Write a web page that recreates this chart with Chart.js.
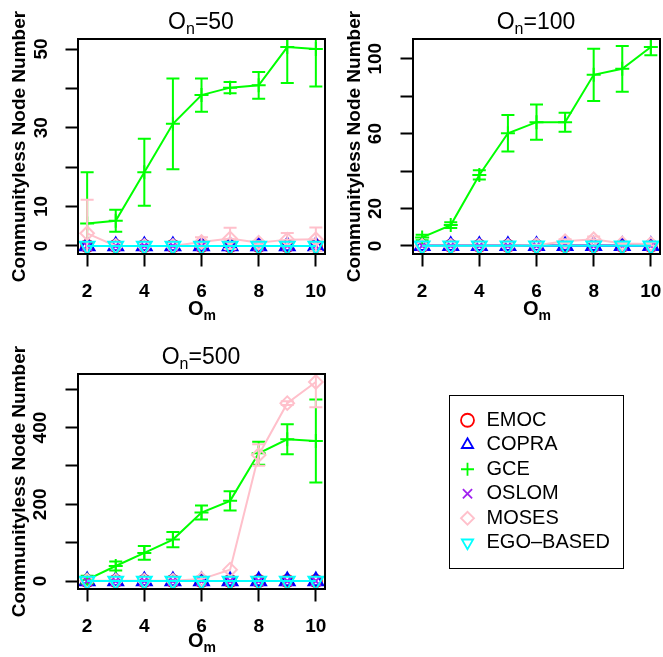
<!DOCTYPE html>
<html>
<head>
<meta charset="utf-8">
<script src="https://cdn.jsdelivr.net/npm/chart.js@4.4.0/dist/chart.umd.min.js"></script>
<style>
  body { margin: 0; background: #fff; width: 663px; height: 657px; position: relative; overflow: hidden;
         font-family: "Liberation Sans", Arial, Helvetica, sans-serif; color: #000; }
  .panel { position: absolute; width: 328px; height: 322px; }
  canvas { display: block; }
  .ttl { position: absolute; font-size: 23px; white-space: nowrap; transform: translate(-50%, -50%); line-height: 1; }
  .ttl sub { font-size: 16px; vertical-align: -5px; }
  .xt { position: absolute; font-size: 20px; font-weight: bold; white-space: nowrap; transform: translate(-50%, -50%); line-height: 1; }
  .xt sub { font-size: 14px; vertical-align: -5px; }
  #legendBox { position: absolute; left: 449px; top: 395px; width: 175px; height: 174px;
               box-sizing: border-box; border: 1.5px solid #000; }
</style>
</head>
<body>

<div class="panel" style="left:0;top:0"><canvas id="p50" width="328" height="322"></canvas></div>
<div class="panel" style="left:335px;top:0"><canvas id="p100" width="328" height="322"></canvas></div>
<div class="panel" style="left:0;top:335px"><canvas id="p500" width="328" height="322"></canvas></div>

<div class="ttl" style="left:201px;top:23px">O<sub>n</sub>=50</div>
<div class="ttl" style="left:536px;top:23px">O<sub>n</sub>=100</div>
<div class="ttl" style="left:201px;top:358px">O<sub>n</sub>=500</div>

<div class="xt" style="left:202px;top:310px">O<sub>m</sub></div>
<div class="xt" style="left:537px;top:310px">O<sub>m</sub></div>
<div class="xt" style="left:202px;top:642px">O<sub>m</sub></div>

<div id="legendBox"><canvas id="leg" width="172" height="171"></canvas></div>

<script>
const omValues = [2, 3, 4, 5, 6, 7, 8, 9, 10];
const xTicks = [2, 4, 6, 8, 10];
const methods = ["EMOC", "COPRA", "GCE", "OSLOM", "MOSES", "EGO\u2013BASED"];
const zeros = [0, 0, 0, 0, 0, 0, 0, 0, 0];

// On = 50
const gce50 = [5.7, 6.4, 18.7, 31.0, 38.3, 40.2, 40.8, 50.5, 50.0];
const gce50Err = [13.0, 2.8, 8.5, 11.5, 4.2, 1.4, 3.4, 9.1, 9.5];
const moses50 = [3.2, 0, 0, 0, 1.0, 1.9, 0.8, 1.6, 1.7];
const moses50Err = [8.5, 0, 0, 0, 1.2, 2.7, 0.4, 1.7, 3.0];
const yTicks50 = [0, 10, 20, 30, 40, 50];
const yLabels50 = [0, 10, 30, 50];

// On = 100
const gce100 = [4.5, 11.1, 37.9, 60.2, 66.1, 66.1, 91.4, 94.6, 106.3];
const gce100Err = [1.5, 1.5, 2.5, 9.8, 9.4, 5.1, 14.0, 12.2, 4.5];
const moses100 = [0, 0, 0, 0, 0.3, 2.5, 3.5, 1.3, 1.0];
const moses100Err = [0, 0, 0, 0, 0.3, 1.0, 1.5, 0.8, 0.8];
const yTicks100 = [0, 20, 40, 60, 80, 100];
const yLabels100 = [0, 20, 60, 100];

// On = 500
const gce500 = [3.5, 39.2, 73.2, 108, 178.6, 209, 333, 369.5, 365];
const gce500Err = [10, 12, 18, 20, 18, 25, 30, 39, 108];
const moses500 = [1, 1, 1, 1, 5, 29.6, 328.5, 463.6, 518.9];
const moses500Err = [0, 0, 0, 0, 0, 0, 28, 5, 66];
const yTicks500 = [0, 100, 200, 300, 400, 500];
const yLabels500 = [0, 200, 400];

const colors = ["#FF0000", "#0000FF", "#00FF00", "#A020F0", "#FFC0CB", "#00FFFF"];
const shapes = ["circle", "triangle", "cross", "crossRot", "rectRot", "triangle"];
const rotations = [0, 0, 0, 0, 0, 180];
const radii = [6, 8.5, 7, 7, 6.8, 8.5];

Chart.defaults.font.family = '"Liberation Sans", Arial, Helvetica, sans-serif';
Chart.defaults.color = "#000";

const errorBars = {
  id: "errorBars",
  afterDatasetDraw(chart, args) {
    const ds = chart.data.datasets[args.index];
    if (!ds.err) return;
    const ctx = chart.ctx;
    const y = chart.scales.y;
    const a = chart.chartArea;
    ctx.save();
    ctx.beginPath();
    ctx.rect(a.left, a.top, a.right - a.left, a.bottom - a.top);
    ctx.clip();
    ctx.strokeStyle = ds.borderColor;
    ctx.lineWidth = 2;
    args.meta.data.forEach((pt, i) => {
      const e = ds.err[i];
      if (!e) return;
      const v = ds.data[i].y;
      const top = y.getPixelForValue(v + e);
      const bot = y.getPixelForValue(v - e);
      ctx.beginPath();
      ctx.moveTo(pt.x, top);
      ctx.lineTo(pt.x, bot);
      ctx.moveTo(pt.x - 6.5, top);
      ctx.lineTo(pt.x + 6.5, top);
      ctx.moveTo(pt.x - 6.5, bot);
      ctx.lineTo(pt.x + 6.5, bot);
      ctx.stroke();
    });
    ctx.restore();
  }
};

const frame = {
  id: "frame",
  afterDraw(chart) {
    if (!chart.scales.y) return;
    const { ctx, chartArea: a } = chart;
    ctx.save();
    ctx.strokeStyle = "#000";
    ctx.lineWidth = 2;
    ctx.strokeRect(a.left, a.top, a.right - a.left, a.bottom - a.top);
    ctx.restore();
  }
};

function makeDatasets(series, errs) {
  return methods.map((name, i) => ({
    label: name,
    data: omValues.map((x, j) => ({ x: x, y: series[i][j] })),
    err: errs[i],
    borderColor: colors[i],
    backgroundColor: "rgba(0,0,0,0)",
    borderWidth: 2,
    pointStyle: shapes[i],
    pointRotation: rotations[i],
    pointRadius: radii[i],
    pointBorderWidth: 2,
    pointBorderColor: colors[i],
    pointBackgroundColor: "rgba(0,0,0,0)",
    order: methods.length - 1 - i
  }));
}

function makePanel(id, series, errs, yMin, yMax, yTicks, yLabels, labelPad) {
  const tickGrid = { drawOnChartArea: false, drawTicks: true, tickLength: 12.5, tickColor: "#000", tickWidth: 2 };
  return new Chart(document.getElementById(id), {
    type: "line",
    data: { datasets: makeDatasets(series, errs) },
    options: {
      responsive: false,
      animation: false,
      events: [],
      layout: { autoPadding: false, padding: { top: 39, right: 3, left: 0, bottom: 0 } },
      plugins: { legend: { display: false }, tooltip: { enabled: false } },
      scales: {
        x: {
          type: "linear",
          min: 1.68,
          max: 10.32,
          afterBuildTicks: (s) => { s.ticks = xTicks.map((v) => ({ value: v })); },
          afterFit: (s) => { s.height = 68; s.paddingLeft = 0; s.paddingRight = 0; },
          grid: tickGrid,
          border: { display: false },
          ticks: { font: { size: 19, weight: "bold" }, color: "#000", padding: 14, maxRotation: 0, autoSkip: false }
        },
        y: {
          min: yMin,
          max: yMax,
          afterBuildTicks: (s) => { s.ticks = yTicks.map((v) => ({ value: v })); },
          afterFit: (s) => { s.width = 78; s.paddingTop = 0; s.paddingBottom = 0; },
          grid: tickGrid,
          border: { display: false },
          ticks: {
            font: { size: 19, weight: "bold" }, color: "#000",
            minRotation: 90, maxRotation: 90, crossAlign: "center",
            padding: labelPad, autoSkip: false,
            callback: (v) => (yLabels.includes(v) ? String(v) : "")
          },
          title: {
            display: true, text: "Communityless Node Number", color: "#000",
            font: { size: 19, weight: "bold" }, padding: { top: 8, bottom: 0 }
          }
        }
      }
    },
    plugins: [errorBars, frame]
  });
}

makePanel("p50", [zeros, zeros, gce50, zeros, moses50, zeros],
  [null, null, gce50Err, null, moses50Err, null], -2.05, 52.55, yTicks50, yLabels50, 13);
makePanel("p100", [zeros, zeros, gce100, zeros, moses100, zeros],
  [null, null, gce100Err, null, moses100Err, null], -4.35, 110.55, yTicks100, yLabels100, 8.5);
makePanel("p500", [zeros, zeros, gce500, zeros, moses500, zeros],
  [null, null, gce500Err, null, moses500Err, null], -20.8, 539.6, yTicks500, yLabels500, 8.5);

// legend panel
new Chart(document.getElementById("leg"), {
  type: "line",
  data: {
    datasets: methods.map((name, i) => ({
      label: name,
      data: [],
      borderColor: colors[i],
      backgroundColor: "rgba(0,0,0,0)",
      pointStyle: shapes[i],
      pointRotation: rotations[i],
      pointBorderColor: colors[i],
      pointBackgroundColor: "rgba(0,0,0,0)",
      pointBorderWidth: 1.8
    }))
  },
  options: {
    responsive: false,
    animation: false,
    events: [],
    layout: { padding: { left: 4 } },
    scales: { x: { display: false }, y: { display: false } },
    plugins: {
      tooltip: { enabled: false },
      legend: {
        position: "left",
        maxWidth: 168,
        labels: {
          usePointStyle: true, boxWidth: 18, boxHeight: 9.2, padding: 4.5,
          color: "#000", font: { size: 20 }
        }
      }
    }
  }
});
</script>
</body>
</html>
